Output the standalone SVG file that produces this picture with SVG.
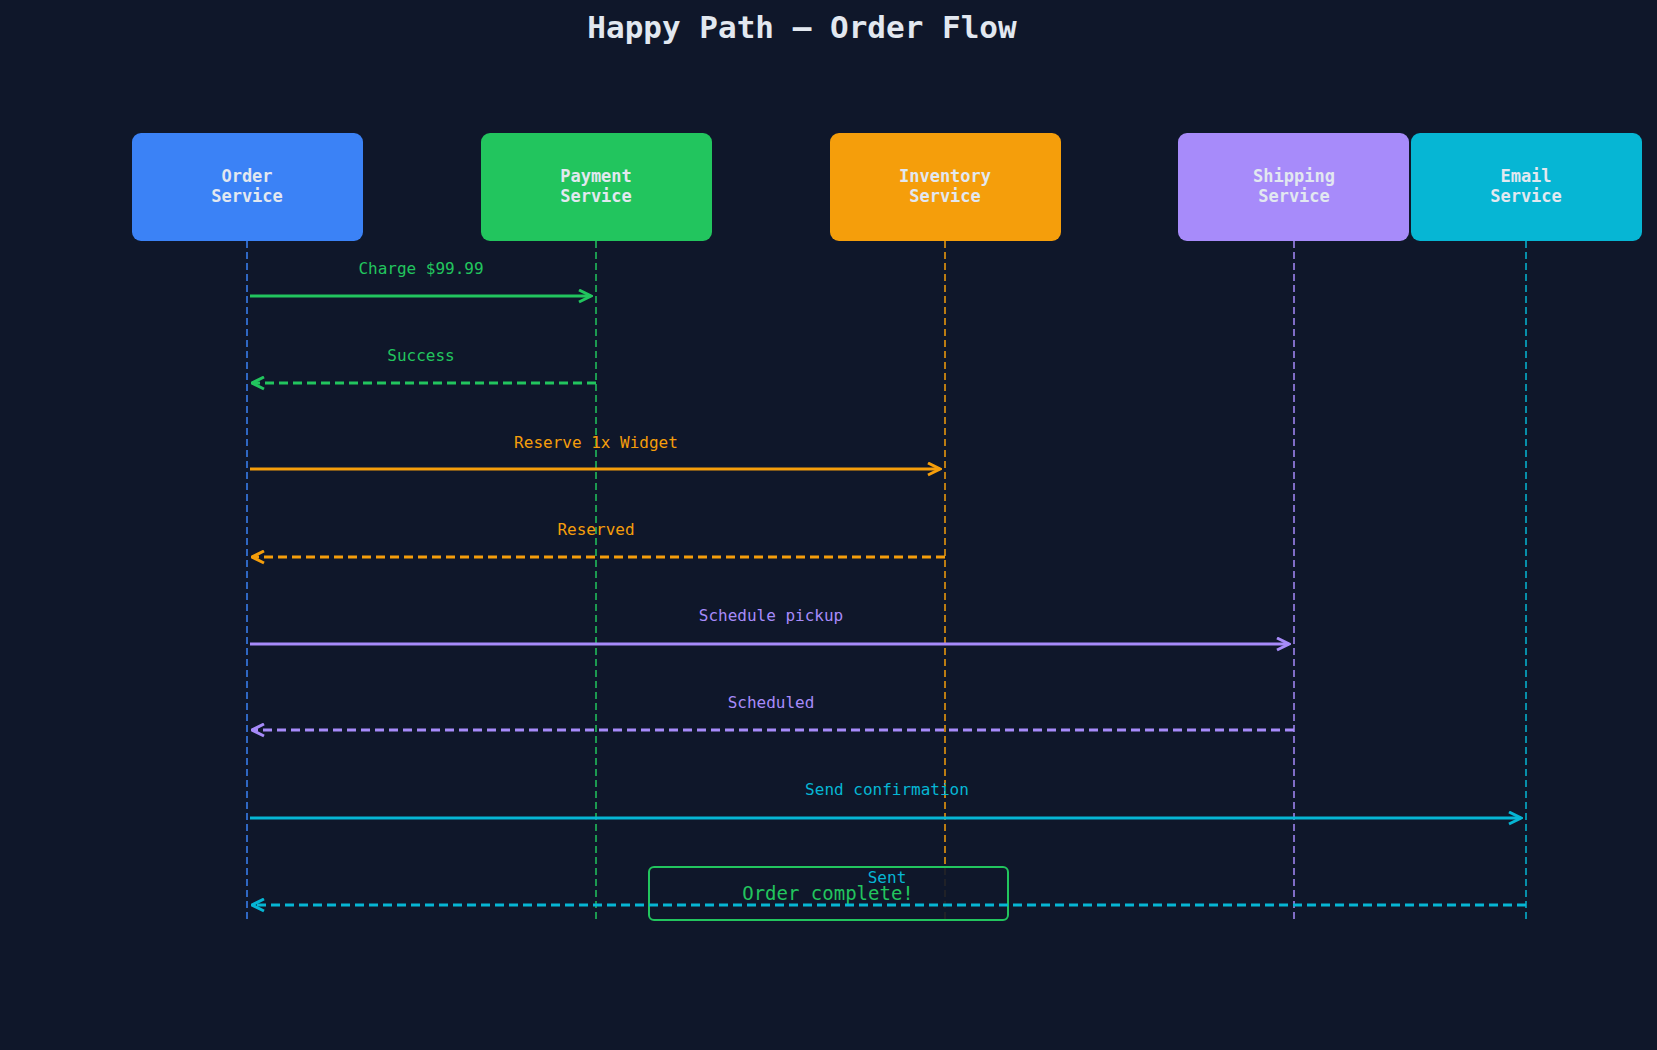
<svg xmlns="http://www.w3.org/2000/svg" width="1657" height="1050" viewBox="0 0 1657 1050">
<style>
.t{font-family:"DejaVu Sans Mono",monospace}
.n{font-family:"DejaVu Sans Mono",monospace;font-weight:bold;font-size:17px;fill:#e2e8f0;text-anchor:middle}
.l{font-family:"DejaVu Sans Mono",monospace;font-size:16px;text-anchor:middle}
.ll{stroke-width:1.5;stroke-dasharray:7 4;fill:none}
.m{stroke-width:3;fill:none}
.r{stroke-width:3;stroke-dasharray:9 5;fill:none}
</style>
<defs>
<marker id="ag" viewBox="0 0 10 10" refX="9" refY="5" markerWidth="5" markerHeight="5" orient="auto-start-reverse"><path d="M1 1L9 5L1 9" fill="none" stroke="#22c55e" stroke-width="2"/></marker>
<marker id="ao" viewBox="0 0 10 10" refX="9" refY="5" markerWidth="5" markerHeight="5" orient="auto-start-reverse"><path d="M1 1L9 5L1 9" fill="none" stroke="#f59e0b" stroke-width="2"/></marker>
<marker id="ap" viewBox="0 0 10 10" refX="9" refY="5" markerWidth="5" markerHeight="5" orient="auto-start-reverse"><path d="M1 1L9 5L1 9" fill="none" stroke="#a78bfa" stroke-width="2"/></marker>
<marker id="ac" viewBox="0 0 10 10" refX="9" refY="5" markerWidth="5" markerHeight="5" orient="auto-start-reverse"><path d="M1 1L9 5L1 9" fill="none" stroke="#06b6d4" stroke-width="2"/></marker>
</defs>
<rect width="1657" height="1050" fill="#0f172a"/>
<text class="t" x="802" y="38" font-size="31" font-weight="bold" fill="#e2e8f0" text-anchor="middle">Happy Path — Order Flow</text>
<g id="lifelines">
<line class="ll" x1="247" y1="241" x2="247" y2="922" stroke="#3b82f6"/>
<line class="ll" x1="596" y1="241" x2="596" y2="922" stroke="#22c55e"/>
<line class="ll" x1="945" y1="241" x2="945" y2="922" stroke="#f59e0b"/>
<line class="ll" x1="1294" y1="241" x2="1294" y2="922" stroke="#a78bfa"/>
<line class="ll" x1="1526" y1="241" x2="1526" y2="922" stroke="#06b6d4"/>
</g>
<g id="order"><rect x="132" y="133" width="231" height="108" rx="9" fill="#3b82f6"/><text class="n" x="247" y="182">Order</text><text class="n" x="247" y="202">Service</text></g>
<g id="payment"><rect x="481" y="133" width="231" height="108" rx="9" fill="#22c55e"/><text class="n" x="596" y="182">Payment</text><text class="n" x="596" y="202">Service</text></g>
<g id="inventory"><rect x="830" y="133" width="231" height="108" rx="9" fill="#f59e0b"/><text class="n" x="945" y="182">Inventory</text><text class="n" x="945" y="202">Service</text></g>
<g id="shipping"><rect x="1178" y="133" width="231" height="108" rx="9" fill="#a78bfa"/><text class="n" x="1294" y="182">Shipping</text><text class="n" x="1294" y="202">Service</text></g>
<g id="email"><rect x="1411" y="133" width="231" height="108" rx="9" fill="#06b6d4"/><text class="n" x="1526" y="182">Email</text><text class="n" x="1526" y="202">Service</text></g>
<g id="note"><rect x="649" y="867" width="359" height="53" rx="5" fill="#0f172a" fill-opacity="0.9" stroke="#22c55e" stroke-width="2"/><text class="t" x="828" y="900" font-size="19" fill="#22c55e" text-anchor="middle">Order complete!</text></g>
<g id="connectors">
<line class="m" x1="250" y1="296" x2="591" y2="296" stroke="#22c55e" marker-end="url(#ag)"/>
<text class="l" x="421" y="274" fill="#22c55e">Charge $99.99</text>
<line class="r" x1="596" y1="383" x2="252" y2="383" stroke="#22c55e" marker-end="url(#ag)"/>
<text class="l" x="421" y="361" fill="#22c55e">Success</text>
<line class="m" x1="250" y1="469" x2="940" y2="469" stroke="#f59e0b" marker-end="url(#ao)"/>
<text class="l" x="596" y="448" fill="#f59e0b">Reserve 1x Widget</text>
<line class="r" x1="945" y1="557" x2="252" y2="557" stroke="#f59e0b" marker-end="url(#ao)"/>
<text class="l" x="596" y="535" fill="#f59e0b">Reserved</text>
<line class="m" x1="250" y1="644" x2="1289" y2="644" stroke="#a78bfa" marker-end="url(#ap)"/>
<text class="l" x="771" y="621" fill="#a78bfa">Schedule pickup</text>
<line class="r" x1="1294" y1="730" x2="252" y2="730" stroke="#a78bfa" marker-end="url(#ap)"/>
<text class="l" x="771" y="708" fill="#a78bfa">Scheduled</text>
<line class="m" x1="250" y1="818" x2="1521" y2="818" stroke="#06b6d4" marker-end="url(#ac)"/>
<text class="l" x="887" y="795" fill="#06b6d4">Send confirmation</text>
<line class="r" x1="1526" y1="905" x2="252" y2="905" stroke="#06b6d4" marker-end="url(#ac)"/>
<text class="l" x="887" y="883" fill="#06b6d4">Sent</text>
</g>
</svg>
